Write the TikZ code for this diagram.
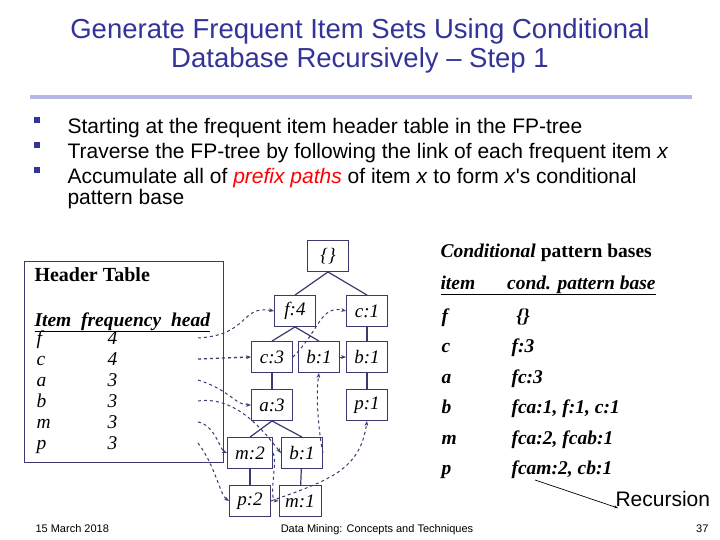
\documentclass[tikz,border=0pt]{standalone}
\usepackage{fontspec}
\setmainfont{Liberation Serif}
\newfontfamily\sansf{Liberation Sans}
\usetikzlibrary{arrows.meta}
\definecolor{navy}{HTML}{333399}
\definecolor{lnk}{HTML}{3A3A70}
\definecolor{lav}{HTML}{B8B8E6}
\begin{document}
\begin{tikzpicture}[x=1pt,y=-1pt,
  tn/.style={draw=lnk,line width=0.9pt,minimum width=41pt,minimum height=31pt,inner sep=0pt,font=\fontsize{19}{19}\selectfont\itshape},
  edge/.style={draw=lnk,line width=1.2pt},
  lnkl/.style={draw=lnk,line width=1pt,dashed,-{Stealth[length=5pt]}},
  ht/.style={anchor=base west,font=\fontsize{19.5}{19}\selectfont\itshape},
  rt/.style={anchor=base west,font=\fontsize{19.5}{19}\selectfont\bfseries\itshape},
  bul/.style={anchor=base west,font=\sansf\fontsize{21}{21}\selectfont}]
\useasboundingbox[fill=white] (0,0) rectangle (720,540);
% title
\node[font=\sansf\fontsize{27.5}{27.5}\selectfont,text=navy,align=center] (title) at (360,46) {Generate Frequent Item Sets Using Conditional\\[1pt]Database Recursively \textendash{} Step 1};
\draw[lav,line width=4pt] (30,97) -- (692,97);
% bullets
\foreach \yy in {127,152,177}{\fill[navy] (34,\yy-10) rectangle (40,\yy-4);}
\node[bul] (b1) at (64,134) {Starting at the frequent item header table in the FP-tree};
\node[bul] (b2) at (64,159) {Traverse the FP-tree by following the link of each frequent item \textit{x}};
\node[bul] (b3) at (64,184) {Accumulate all of \textcolor{red}{\itshape prefix paths} of item \textit{x} to form \textit{x}'s conditional};
\node[bul] (b4) at (64,205) {pattern base};
% header table
\draw[lnk,line width=0.8pt] (24,261) rectangle (223,462);
\node[anchor=base west,font=\fontsize{20}{20}\selectfont\bfseries] (htt) at (31,281) {Header Table};
\node[anchor=base west,font=\fontsize{19.5}{19}\selectfont\bfseries\itshape] (hh) at (31,326) {\underline{Item\ \ frequency\ \ head}};
\foreach \it/\fr/\yy [count=\i] in {f/4/344,c/4/365,a/3/386,b/3/407,m/3/428,p/3/449}{
  \node[ht] (hi\i) at (33,\yy) {\it};
  \node[ht] (hf\i) at (104,\yy) {\fr};
  \coordinate (hl\i) at (198,\yy-6);
}
% tree
\node[tn] (root) at (328,256) {\{\}};
\node[tn] (f4) at (295,311) {f:4};
\node[tn] (c1) at (367,311) {c:1};
\node[tn] (c3) at (272,357) {c:3};
\node[tn] (b1m) at (319,357) {b:1};
\node[tn] (b1r) at (367,357) {b:1};
\node[tn] (a3) at (272,405) {a:3};
\node[tn] (p1) at (367,405) {p:1};
\node[tn,minimum width=45pt] (m2) at (250,453) {m:2};
\node[tn] (b1l) at (302,453) {b:1};
\node[tn] (p2) at (250,501) {p:2};
\node[tn,minimum width=42pt] (m1) at (300,501) {m:1};
\draw[edge] (root.south) -- (f4.north);
\draw[edge] (root.south) -- (c1.north);
\draw[edge] (f4.south) -- (c3.north);
\draw[edge] (f4.south) -- (b1m.north);
\draw[edge] (c1) -- (b1r);
\draw[edge] (b1r) -- (p1);
\draw[edge] (c3) -- (a3);
\draw[edge] (a3.south) -- (m2.north);
\draw[edge] (a3.south) -- (b1l.north);
\draw[edge] (m2) -- (p2);
\draw[edge] (b1l) -- (m1);
% node links
\draw[lnkl] (hl1) .. controls (250,335) and (240,305) .. (f4.west);
\draw[lnkl,line width=1.3pt] (hl2) -- (c3.west);
\draw[lnkl] (c3.east) .. controls (320,330) and (320,305) .. (c1.west);
\draw[lnkl] (hl3) .. controls (230,390) and (235,405) .. (a3.west);
\draw[lnkl] (hl4) .. controls (240,395) and (270,440) .. (b1l.west);
\draw[lnkl] (b1l.east) .. controls (320,440) and (315,400) .. (b1m.south);
\draw[lnkl] (b1m) -- (b1r);
\draw[lnkl] (hl5) .. controls (215,425) and (220,450) .. (m2.west);
\draw[lnkl] (m2.east) .. controls (278,460) and (268,500) .. (m1.west);
\draw[lnkl] (hl6) .. controls (215,465) and (220,495) .. (p2.west);
\draw[lnkl] (p2.east) .. controls (330,480) and (360,470) .. (p1.south);
% right table
\node[anchor=base west,font=\fontsize{19.5}{19}\selectfont\bfseries] (cpb) at (437,257) {\textit{Conditional} pattern bases};
\node[rt] (ri) at (437,289) {\underline{item\hspace{32pt}cond. pattern base}};
\foreach \it/\cp [count=\i] in {f/{\ \{\}},c/f:3,a/fc:3,b/{fca:1, f:1, c:1},m/{fca:2, fcab:1},p/{fcam:2, cb:1}}{
  \pgfmathsetmacro{\yy}{322+30.5*(\i-1)}
  \node[rt] (ri\i) at (438,\yy) {\it};
  \node[rt] (rc\i) at (508,\yy) {\cp};
}
\node[anchor=base west,font=\sansf\fontsize{21}{21}\selectfont] (rec) at (612,506) {Recursion};
\draw[line width=0.7pt,-{Stealth[length=4pt]}] (535,480) -- (618,508);
% footer
\node[anchor=base west,font=\sansf\fontsize{11}{11}\selectfont] (d) at (32,532) {15 March 2018};
\node[anchor=base,font=\sansf\fontsize{11}{11}\selectfont] (dm) at (377,532) {Data Mining: Concepts and Techniques};
\node[anchor=base east,font=\sansf\fontsize{11}{11}\selectfont] (pg) at (712,532) {37};
\end{tikzpicture}
\end{document}
